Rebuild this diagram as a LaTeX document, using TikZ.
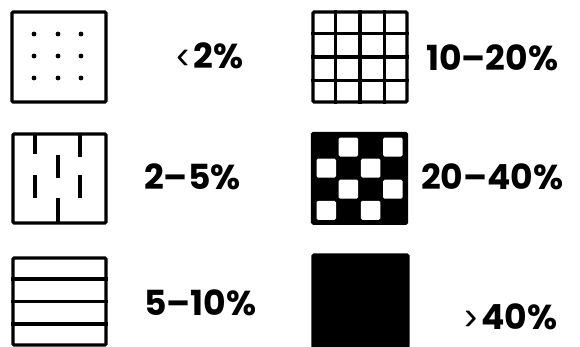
\documentclass[tikz,border=0pt]{standalone}
\usepackage{fontspec}
\setmainfont{Poppins}
\newfontfamily\chev{Liberation Sans}
\usetikzlibrary{calc}
\begin{document}
\begin{tikzpicture}[x=1pt,y=-1pt,
  boxline/.style={line width=3.1pt, line join=round},
  legbox/.style={draw, line width=3.1pt, rounded corners=1pt, minimum width=#1, inner sep=0pt},
  lab/.style={anchor=west, inner sep=0pt, font=\fontsize{34.6}{40}\selectfont\bfseries}]
\useasboundingbox (0,0) rectangle (580,346);
% box 1: dots
\node[legbox=94pt, minimum height=90pt] (b1) at (59,57) {};
\foreach \x in {34,58,81} \foreach \y in {34,56,78} \fill (\x,\y) circle (2.4pt);
\node[lab] (t1) at (176,56) {{\chev\mdseries\fontsize{40}{40}\selectfont ‹}\hspace{4pt}2\%};
% box 2: grid
\node[legbox=94pt, minimum height=90pt] (b2) at (360,57) {};
\foreach \i in {1,2,3} {
  \draw[boxline] ($(b2.north west)!\i/4!(b2.north east)$) -- ($(b2.south west)!\i/4!(b2.south east)$);
  \draw[boxline] ($(b2.north west)!\i/4!(b2.south west)$) -- ($(b2.north east)!\i/4!(b2.south east)$);
}
\node[lab] (t2) at (426,58) {10–20\%};
% box 3: vertical segments
\node[legbox=93pt, minimum height=89pt] (b3) at (59.5,178.5) {};
\draw[boxline] (35,134) -- (35,154) (35,175) -- (35,198);
\draw[boxline] (58,155) -- (58,178) (58,198) -- (58,223);
\draw[boxline] (80,134) -- (80,157) (80,175) -- (80,198);
\node[lab] (t3) at (144,177) {2–5\%};
% box 4: checker
\node[legbox=94pt, minimum height=90pt, fill=black] (b4) at (359.5,178.3) {};
\foreach \r in {0,1,2,3} \foreach \c in {0,1,2,3} {
  \pgfmathtruncatemacro{\odd}{mod(\r+\c,2)}
  \ifnum\odd=1
    \fill[white, rounded corners=1.5pt] ({316.5+\c*22.2},{137.5+\r*21.1}) rectangle ++(19.5,19);
  \fi
}
\node[lab] (t4) at (421,177) {20–40\%};
% box 5: horizontal lines
\node[legbox=93pt, minimum height=87pt] (b5) at (59.5,301.5) {};
\foreach \i in {1,2,3}
  \draw[boxline] ($(b5.north west)!\i/4!(b5.south west)$) -- ($(b5.north east)!\i/4!(b5.south east)$);
\node[lab] (t5) at (144,303) {5–10\%};
% box 6: solid
\node[legbox=95pt, minimum height=92pt, fill=black] (b6) at (360.5,301) {};
\node[lab] (t6) at (464,317) {{\chev\mdseries\fontsize{40}{40}\selectfont ›}\hspace{4pt}40\%};
\end{tikzpicture}
\end{document}
